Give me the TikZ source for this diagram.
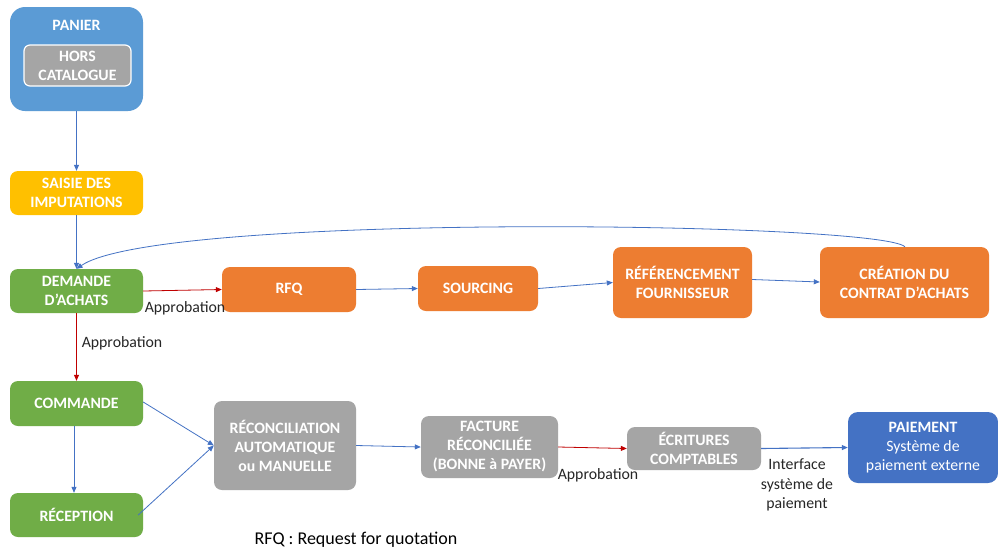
\documentclass[tikz,border=0pt]{standalone}
\usepackage{fontspec}
\setmainfont{Carlito}
\usetikzlibrary{arrows.meta}
\definecolor{pblue}{HTML}{5B9BD5}
\definecolor{dblue}{HTML}{4472C4}
\definecolor{pgray}{HTML}{A5A5A5}
\definecolor{pyellow}{HTML}{FFC000}
\definecolor{pgreen}{HTML}{70AD47}
\definecolor{porange}{HTML}{ED7D31}
\definecolor{pred}{HTML}{C00000}
\definecolor{ptext}{HTML}{262626}
\tikzset{
  box/.style={rounded corners=8pt, text=white, align=center, inner sep=1pt,
    font=\fontsize{15.8}{19}\selectfont\bfseries},
  bl/.style={draw=dblue, line width=0.8pt, -{Triangle[length=6pt,width=5pt]}},
  rl/.style={draw=pred, line width=0.8pt, -{Triangle[length=6pt,width=5pt]}},
  lbl/.style={text=ptext, align=center, inner sep=0pt,
    font=\fontsize{15.8}{19.5}\selectfont},
}
\begin{document}
\begin{tikzpicture}[x=1pt,y=-1pt]
\useasboundingbox (0,0) rectangle (998,552);
\fill[white] (0,0) rectangle (998,552);
% PANIER
\node[box, fill=pblue, rounded corners=15pt, minimum width=133pt, minimum height=104pt] (pan) at (76.5,59) {};
\node[box] (pant) at (76.5,25) {PANIER};
\node[box, fill=pgray, draw=white, line width=1.2pt, rounded corners=6pt, minimum width=107pt, minimum height=41pt] (hors) at (77.5,65.5) {HORS\\CATALOGUE};
% left column
\node[box, fill=pyellow, minimum width=133pt, minimum height=44pt] (sai) at (76.5,193) {SAISIE DES\\IMPUTATIONS};
\node[box, fill=pgreen, minimum width=133pt, minimum height=44pt] (dem) at (76.5,291) {DEMANDE\\D’ACHATS};
\node[box, fill=pgreen, minimum width=133pt, minimum height=45pt] (com) at (76.5,403.5) {COMMANDE};
\node[box, fill=pgreen, minimum width=133pt, minimum height=44pt] (rec) at (76.5,515) {RÉCEPTION};
% orange row
\node[box, fill=porange, minimum width=134pt, minimum height=45pt] (rfq) at (289,289.5) {RFQ};
\node[box, fill=porange, minimum width=120pt, minimum height=45pt] (src) at (478,288.5) {SOURCING};
\node[box, fill=porange, minimum width=139pt, minimum height=71pt] (ref) at (682.5,282.5) {RÉFÉRENCEMENT\\FOURNISSEUR};
\node[box, fill=porange, minimum width=169pt, minimum height=71pt] (cre) at (904.5,282.5) {CRÉATION DU\\CONTRAT D’ACHATS};
% gray row
\node[box, fill=pgray, minimum width=142pt, minimum height=89pt] (rco) at (285,445.5) {RÉCONCILIATION\\AUTOMATIQUE\\ou MANUELLE};
\node[box, fill=pgray, minimum width=137pt, minimum height=62pt] (fac) at (489.5,447) {FACTURE\\RÉCONCILIÉE\\(BONNE à PAYER)};
\node[box, fill=pgray, minimum width=134pt, minimum height=43pt] (ecr) at (694,448.5) {ÉCRITURES\\COMPTABLES};
\node[box, fill=dblue, rounded corners=10pt, minimum width=150pt, minimum height=71pt] (pai) at (923,447.5) {PAIEMENT\\{\mdseries Système de}\\{\mdseries paiement externe}};
% connectors
\draw[bl] (pan.south) -- (sai.north);
\draw[bl] (sai.south) -- (dem.north);
\draw[bl] ([xshift=0.5pt]cre.north) .. controls (880,222) and (160,212) .. (dem.north);
\draw[rl] (dem.east) -- (rfq.west);
\draw[rl] (dem.south) -- (com.north);
\draw[bl] (rfq.east) -- (src.west);
\draw[bl] (src.east) -- (ref.west);
\draw[bl] ([yshift=3pt]ref.east) -- ([yshift=0.5pt]cre.west);
\draw[bl] ([yshift=1.5pt]com.east) -- (rco.west);
\draw[bl] ([xshift=-2.5pt]com.south) -- ([xshift=-2.5pt]rec.north);
\draw[bl] ([xshift=-5pt]rec.east) -- (rco.west);
\draw[bl] (rco.east) -- (fac.west);
\draw[rl] (fac.east) -- (ecr.west);
\draw[bl, line width=1.1pt] (ecr.east) -- (pai.west);
% labels
\node[lbl] (a1) at (185,308) {Approbation};
\node[lbl] (a2) at (122,343) {Approbation};
\node[lbl] (a3) at (598,475) {Approbation};
\node[lbl] (itf) at (797,485) {Interface\\système de\\paiement};
\node[lbl, text=black, font=\fontsize{18}{20}\selectfont] (note) at (356,540) {RFQ : Request for quotation};
\end{tikzpicture}
\end{document}
